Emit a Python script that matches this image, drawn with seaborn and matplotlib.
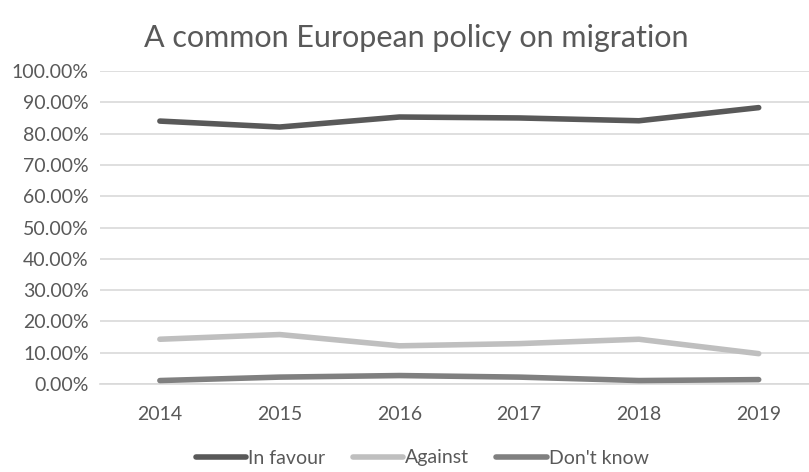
import matplotlib
matplotlib.use("Agg")
import matplotlib.pyplot as plt
import seaborn as sns
import pandas as pd
from matplotlib.ticker import FuncFormatter
from matplotlib.lines import Line2D

years = ["2014", "2015", "2016", "2017", "2018", "2019"]
in_favour = [0.840, 0.821, 0.853, 0.850, 0.841, 0.883]
against = [0.143, 0.158, 0.122, 0.129, 0.143, 0.097]
dont_know = [0.011, 0.022, 0.027, 0.022, 0.011, 0.014]
series_names = ["In favour", "Against", "Don't know"]
colors = ["#595959", "#bfbfbf", "#808080"]

df = pd.DataFrame({"year": years * 3,
                   "value": in_favour + against + dont_know,
                   "series": [s for s in series_names for _ in years]})
df["x"] = df["year"].map({y: i for i, y in enumerate(years)})

sns.set_theme(style="white")
plt.rcParams["font.family"] = ["Lato", "DejaVu Sans"]

fig = plt.figure(figsize=(8.09, 4.72), dpi=100)
ax = fig.add_axes([100/809, 1-384/472, 709/809, 313/472])

sns.lineplot(data=df, x="x", y="value", hue="series", hue_order=series_names,
             palette=colors, linewidth=4, ax=ax, legend=False,
             solid_capstyle="round", solid_joinstyle="round", zorder=3)

ax.set_xlim(-0.5, 5.42)
ax.set_ylim(0, 1.0)
ax.set_yticks([i/10 for i in range(11)])
ax.yaxis.set_major_formatter(FuncFormatter(lambda v, p: f"{v*100:.2f}%"))
ax.set_xticks(range(len(years)))
ax.set_xticklabels(years)
ax.grid(axis="y", color="#d9d9d9", linewidth=1.2, zorder=0)
ax.grid(axis="x", visible=False)
for s in ["top", "right", "left"]:
    ax.spines[s].set_visible(False)
ax.spines["bottom"].set_color("#d9d9d9")
ax.spines["bottom"].set_linewidth(1.2)
ax.tick_params(axis="both", length=0, labelsize=14, labelcolor="#595959")
ax.tick_params(axis="x", pad=16)
ax.tick_params(axis="y", pad=8)
ax.set_xlabel("")
ax.set_ylabel("")

fig.text(0.515, 1-38/472, "A common European policy on migration", ha="center", va="center",
         fontsize=22, color="#595959")

handles = [Line2D([0], [0], color=c, lw=4, solid_capstyle="round") for c in colors]
fig.legend(handles, series_names, loc="center", bbox_to_anchor=(0.522, 1-458/472),
           ncol=3, frameon=False, fontsize=14, labelcolor="#595959",
           handlelength=2.6, handletextpad=0.1, columnspacing=1.4)

fig.savefig("out.png", dpi=100)
